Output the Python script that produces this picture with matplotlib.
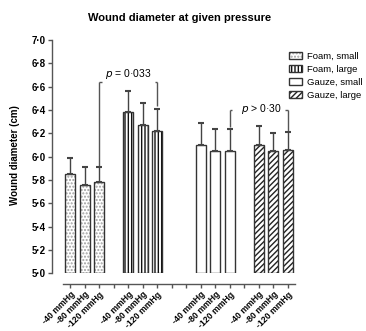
import numpy as np
import matplotlib
matplotlib.use("Agg")
import matplotlib.pyplot as plt

plt.rcParams['font.family'] = ['Liberation Sans', 'DejaVu Sans']
plt.rcParams['hatch.linewidth'] = 1.0

# wound diameter (cm), mean and upper SD, for each dressing at each pressure
pressures = ['-40 mmHg', '-80 mmHg', '-120 mmHg']
groups = ['Foam, small', 'Foam, large', 'Gauze, small', 'Gauze, large']
positions = [[0, 1, 2], [4, 5, 6], [9, 10, 11], [13, 14, 15]]
means = [[5.85, 5.76, 5.78],
         [6.38, 6.27, 6.22],
         [6.10, 6.05, 6.05],
         [6.10, 6.05, 6.06]]
sd = [[0.14, 0.15, 0.13],
      [0.18, 0.19, 0.19],
      [0.19, 0.19, 0.19],
      [0.16, 0.15, 0.15]]
base = 5.0
yticks = np.round(np.arange(5.0, 7.01, 0.2), 1)

hatches = ['.....', '|||||', '', '//////']
hatch_colors = ['#a0a0a0', '#111111', '#333333', '#222222']

fig = plt.figure(figsize=(3.66, 3.31), dpi=100)
ax = fig.add_axes([63 / 366, 57.7 / 331, 232 / 366, 233.4 / 331])

# spines first: moving them resets the tick labels
for s in ['top', 'right']:
    ax.spines[s].set_visible(False)
ax.spines['left'].set_position(('outward', 8))
ax.spines['bottom'].set_position(('outward', 8))

handles = []
for g in range(4):
    x = positions[g]
    h = np.array(means[g]) - base
    fill = ax.bar(x, h, bottom=base, width=0.68, color='white',
                  hatch=hatches[g], edgecolor=hatch_colors[g], linewidth=0, zorder=2)
    edge = ax.bar(x, h, bottom=base, width=0.68, fill=False,
                  edgecolor='#333333', linewidth=1.0, zorder=3)
    ax.errorbar(x, means[g], yerr=[np.zeros(3), sd[g]], fmt='none',
                ecolor='#444444', elinewidth=1.0, capsize=2.3, capthick=1.5, zorder=4)
    handles.append((fill.patches[0], edge.patches[0]))


def bracket(x0, x1, top, bottoms, text, inline):
    leg = dict(color='#555555', lw=1.0, solid_capstyle='butt')
    ax.plot([x0, x0], [bottoms[0], top], **leg)
    ax.plot([x1, x1], [bottoms[1], top], **leg)
    ax.plot([x0, x0 + 0.18], [top, top], **leg)
    ax.plot([x1 - 0.18, x1], [top, top], **leg)
    ty = top + 0.01 if inline else top + 0.07
    ax.text((x0 + x1) / 2 + (0.2 if inline else 0), ty, text,
            ha='center', va='center', fontsize=7.5)


bracket(2, 6, 6.635, [5.91, 6.43], '$\\it{p}$ = 0·033', False)
bracket(11, 15, 6.40, [6.25, 6.22], '$\\it{p}$ > 0·30', True)

ax.set_xlim(-0.5, 15.5)
ax.set_ylim(base, 7.0)
ax.spines['left'].set_bounds(5.0, 7.0)
for s in ['left', 'bottom']:
    ax.spines[s].set_color('#555555')
    ax.spines[s].set_linewidth(1.0)

ax.set_yticks(yticks)
ax.set_yticklabels([f'{v:.1f}'.replace('.', '·') for v in yticks],
                   fontsize=7, fontweight='bold')
ax.set_xticks(np.arange(16))
labels = [''] * 16
for x in positions:
    for i, p in enumerate(x):
        labels[p] = pressures[i]
ax.set_xticklabels(labels, rotation=45, ha='right', rotation_mode='anchor',
                   fontsize=6.3, fontweight='bold')
ax.tick_params(axis='both', length=3, width=1, color='#555555', pad=1.5)
ax.tick_params(axis='x', pad=1)

fig.text(180 / 366, 1 - 18 / 331, 'Wound diameter at given pressure',
         ha='center', va='center', fontsize=8, fontweight='bold')
fig.text(15 / 366, 1 - 155 / 331, 'Wound diameter (cm)', rotation=90,
         ha='center', va='center', fontsize=7, fontweight='bold')

fig.legend(handles, groups, loc='upper left', bbox_to_anchor=(289 / 366, 1 - 52 / 331),
           frameon=False, fontsize=6.8, handlelength=1.4, handleheight=0.8,
           handletextpad=0.55, labelspacing=0.42, borderpad=0, borderaxespad=0)

fig.savefig('out.png', dpi=100)
